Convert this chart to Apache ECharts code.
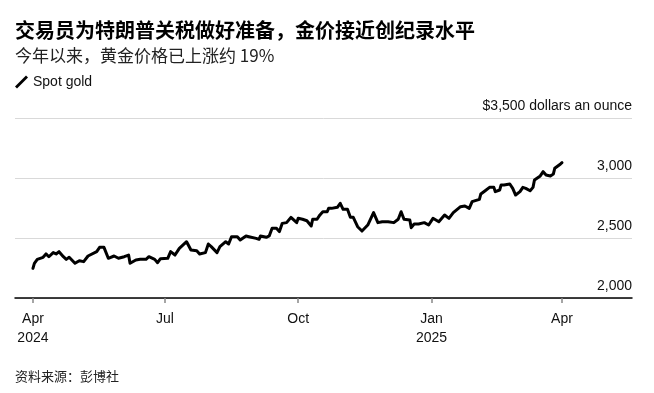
<!DOCTYPE html>
<html>
<head>
<meta charset="utf-8">
<script src="https://cdn.jsdelivr.net/npm/echarts@6/dist/echarts.min.js"></script>
<style>
html,body{margin:0;padding:0;background:#fff;}
#chart{width:654px;height:393px;}
</style>
</head>
<body>
<div id="chart"></div>
<script>
// ---- Data ----
const titleText = '交易员为特朗普关税做好准备，金价接近创纪录水平';
const subtitleText = '今年以来，黄金价格已上涨约 19%';
const sourceText = '资料来源：彭博社';
const seriesName = 'Spot gold';

const dates = [
'2024-04-01','2024-04-02','2024-04-04','2024-04-08','2024-04-10','2024-04-12','2024-04-15','2024-04-17','2024-04-19','2024-04-22',
'2024-04-24','2024-04-26','2024-04-30','2024-05-03','2024-05-06','2024-05-09','2024-05-10','2024-05-15','2024-05-17','2024-05-20',
'2024-05-23','2024-05-27','2024-05-30','2024-06-03','2024-06-06','2024-06-07','2024-06-11','2024-06-14','2024-06-18','2024-06-20',
'2024-06-24','2024-06-26','2024-06-28','2024-07-03','2024-07-05','2024-07-08','2024-07-11','2024-07-12','2024-07-16','2024-07-19',
'2024-07-23','2024-07-25','2024-07-29','2024-07-31','2024-08-02','2024-08-06','2024-08-08','2024-08-12','2024-08-14','2024-08-16',
'2024-08-20','2024-08-22','2024-08-26','2024-08-28','2024-09-02','2024-09-04','2024-09-05','2024-09-09','2024-09-11','2024-09-13',
'2024-09-16','2024-09-18','2024-09-20','2024-09-23','2024-09-26','2024-09-27','2024-09-30','2024-10-01','2024-10-04','2024-10-07',
'2024-10-10','2024-10-11','2024-10-14','2024-10-16','2024-10-18','2024-10-21','2024-10-22','2024-10-24','2024-10-28','2024-10-29',
'2024-10-30','2024-11-01','2024-11-04','2024-11-05','2024-11-06','2024-11-08','2024-11-11','2024-11-14','2024-11-18','2024-11-22',
'2024-11-25','2024-11-28','2024-12-02','2024-12-03','2024-12-06','2024-12-09','2024-12-11','2024-12-13','2024-12-17','2024-12-18',
'2024-12-20','2024-12-23','2024-12-27','2024-12-30','2025-01-02','2025-01-06','2025-01-07','2025-01-10','2025-01-13','2025-01-16',
'2025-01-17','2025-01-21','2025-01-24','2025-01-27','2025-01-29','2025-02-03','2025-02-04','2025-02-07','2025-02-10','2025-02-13',
'2025-02-14','2025-02-17','2025-02-18','2025-02-20','2025-02-24','2025-02-26','2025-02-28','2025-03-03','2025-03-05','2025-03-07',
'2025-03-10','2025-03-12','2025-03-13','2025-03-14','2025-03-17','2025-03-19','2025-03-21','2025-03-24','2025-03-26','2025-03-27',
'2025-03-31','2025-04-01'
];

const prices = [
2247,2289,2322,2339,2367,2344,2378,2367,2386,2344,
2322,2339,2289,2311,2303,2350,2339,2386,2422,2422,
2331,2350,2331,2344,2358,2289,2317,2322,2322,2344,
2322,2294,2328,2331,2386,2358,2414,2414,2469,2400,
2394,2367,2378,2450,2428,2378,2428,2469,2450,2511,
2511,2483,2517,2511,2497,2489,2517,2506,2517,2581,
2581,2553,2622,2628,2672,2656,2628,2664,2656,2644,
2600,2656,2656,2692,2719,2719,2747,2747,2756,2756,
2789,2739,2739,2739,2672,2672,2594,2558,2608,2711,
2628,2636,2636,2644,2628,2656,2719,2656,2650,2586,
2617,2617,2628,2608,2664,2636,2650,2692,2664,2711,
2711,2761,2767,2747,2803,2822,2867,2894,2922,2922,
2886,2900,2942,2942,2950,2914,2858,2886,2922,2914,
2894,2922,2983,2997,3017,3053,3025,3017,3033,3081,
3117,3128
];

const xTickDates = ['2024-04-01','2024-07-01','2024-10-01','2025-01-01','2025-04-01'];
const xTickLabels = ['Apr\n2024','Jul','Oct','Jan\n2025','Apr'];

const yTicks = [2000, 2500, 3000, 3500];
const yTickLabels = ['2,000', '2,500', '3,000', '$3,500 dollars an ounce'];

const xRange = ['2024-03-19T15', '2025-05-19T07'];
const yRange = [2000, 3500];

// ---- helpers ----
function toTs(s) {
  const [d, h] = s.split('T');
  const [y, m, dd] = d.split('-').map(Number);
  return Date.UTC(y, m - 1, dd, h ? Number(h) : 0);
}

const seriesData = dates.map((d, i) => [toTs(d), prices[i]]);
const xTickTs = xTickDates.map(toTs);
function xLabelFor(v) {
  for (let i = 0; i < xTickTs.length; i++) {
    if (Math.abs(xTickTs[i] - v) < 3600000) return xTickLabels[i];
  }
  return '';
}
const yLabelMap = {};
yTicks.forEach((v, i) => { yLabelMap[v] = yTickLabels[i]; });

const FONT = "'Liberation Sans', 'Noto Sans CJK SC', sans-serif";
const CJK = "'Noto Sans CJK SC', 'Liberation Sans', sans-serif";

const chart = echarts.init(document.getElementById('chart'), null, {renderer: 'canvas'});
chart.setOption({
  animation: false,
  backgroundColor: '#fff',
  title: [
    {
      text: titleText, left: 15, top: 18, padding: 0,
      textStyle: {fontFamily: CJK, fontSize: 20, fontWeight: 'bold', color: '#000', lineHeight: 24}
    },
    {
      text: subtitleText, left: 15, top: 46, padding: 0,
      textStyle: {fontFamily: CJK, fontSize: 17, fontWeight: 'normal', color: '#222', lineHeight: 20}
    },
    {
      text: sourceText, left: 15, top: 368, padding: 0,
      textStyle: {fontFamily: CJK, fontSize: 13, fontWeight: 'normal', color: '#222', lineHeight: 16}
    }
  ],
  legend: {
    left: 15, top: 75,
    padding: 0,
    itemWidth: 13, itemHeight: 13,
    icon: 'path://M0,11 L11,0 L13,2 L2,13 Z',
    textStyle: {fontFamily: FONT, fontSize: 14, color: '#111'},
    data: [seriesName]
  },
  grid: {left: 15, right: 22, top: 118, bottom: 95, containLabel: false},
  xAxis: {
    type: 'value',
    min: toTs(xRange[0]),
    max: toTs(xRange[1]),
    axisLine: {show: true, lineStyle: {color: '#000', width: 1.5}},
    axisTick: {show: true, length: 5, lineStyle: {color: '#888', width: 1.5}, customValues: xTickTs},
    axisLabel: {
      customValues: xTickTs,
      margin: 12,
      fontFamily: FONT, fontSize: 14, color: '#111', lineHeight: 19,
      formatter: function (v) { return xLabelFor(v); }
    },
    splitLine: {show: false}
  },
  yAxis: {
    type: 'value',
    position: 'right',
    min: yRange[0], max: yRange[1], interval: 500,
    axisLine: {show: false},
    axisTick: {show: false},
    axisLabel: {
      inside: true,
      margin: 0,
      align: 'right',
      verticalAlign: 'bottom',
      padding: [0, 0, 5, 0],
      fontFamily: FONT, fontSize: 14, color: '#111',
      formatter: function (v) { return yLabelMap[v] !== undefined ? yLabelMap[v] : ''; }
    },
    splitLine: {show: true, lineStyle: {color: '#d9d9d9', width: 1}}
  },
  series: [{
    name: seriesName,
    type: 'line',
    data: seriesData,
    showSymbol: false,
    symbol: 'none',
    color: '#000',
    lineStyle: {color: '#000', width: 3, join: 'round', cap: 'round'},
    itemStyle: {color: '#000'}
  }]
});
</script>
</body>
</html>
